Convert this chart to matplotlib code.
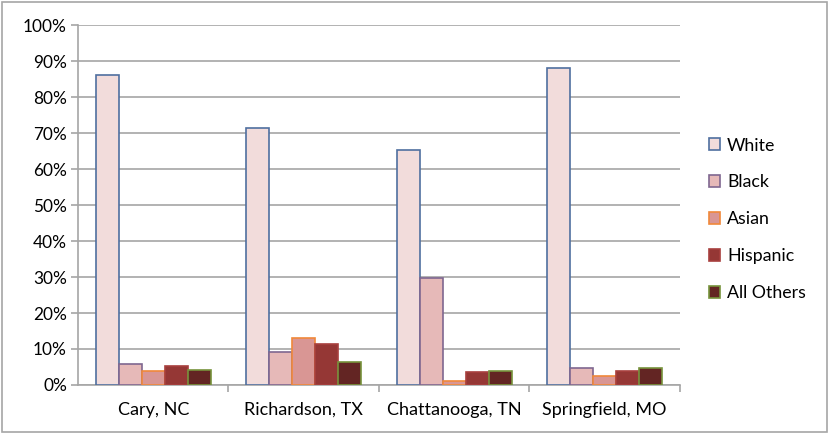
import matplotlib.pyplot as plt
import numpy as np
from matplotlib.patches import Rectangle
from matplotlib.ticker import FixedLocator, NullFormatter

plt.rcParams['font.family'] = ['Lato', 'DejaVu Sans']

cities = ['Cary, NC', 'Richardson, TX', 'Chattanooga, TN', 'Springfield, MO']
groups = ['White', 'Black', 'Asian', 'Hispanic', 'All Others']
white = [86.1, 71.4, 65.3, 88.1]
black = [5.8, 9.2, 29.7, 4.7]
asian = [3.9, 13.0, 1.1, 2.5]
hispanic = [5.3, 11.4, 3.6, 3.9]
others = [4.2, 6.4, 3.9, 4.7]

faces = ['#F2DCDB', '#E6B9B8', '#D99694', '#953735', '#632523']
edges = ['#4F6FA0', '#7F6790', '#F0883A', '#A8403E', '#77933C']

fig = plt.figure(figsize=(8.3, 4.34), dpi=100)
ax = fig.add_axes([0.094, 0.113, 0.725, 0.829])

x = np.arange(len(cities))
w = 0.153
for i, vals in enumerate([white, black, asian, hispanic, others]):
    ax.bar(x + (i - 2) * w, vals, width=w, color=faces[i], edgecolor=edges[i],
           linewidth=1.2, label=groups[i], zorder=3)

ax.set_xlim(-0.5, len(cities) - 0.5)
ax.set_ylim(0, 100)
ax.set_yticks(np.arange(0, 101, 10))
ax.set_yticklabels([f'{v}%' for v in range(0, 101, 10)], fontsize=12.4)
ax.yaxis.grid(True, color='#A6A6A6', linewidth=1.2, zorder=0)
ax.tick_params(axis='y', length=5, color='#A6A6A6', width=1.2, pad=3)

ax.set_xticks(x)
ax.set_xticklabels(cities, fontsize=13)
ax.tick_params(axis='x', which='major', length=0, pad=12)
ax.xaxis.set_minor_locator(FixedLocator(np.arange(0.5, len(cities), 1)))
ax.xaxis.set_minor_formatter(NullFormatter())
ax.tick_params(axis='x', which='minor', length=5, color='#A6A6A6', width=1.2)

for s in ['top', 'right']:
    ax.spines[s].set_visible(False)
for s in ['left', 'bottom']:
    ax.spines[s].set_color('#A6A6A6')
    ax.spines[s].set_linewidth(1.2)

ax.legend(loc='center left', bbox_to_anchor=(1.022, 0.46), frameon=False,
          fontsize=12.8, labelspacing=1.18, handlelength=0.62, handleheight=0.62,
          handletextpad=0.4)

fig.patches.append(Rectangle((0.003, 0.005), 0.993, 0.99, transform=fig.transFigure,
                             fill=False, edgecolor='#A6A6A6', linewidth=1.2))

fig.savefig('out.png', dpi=100)
